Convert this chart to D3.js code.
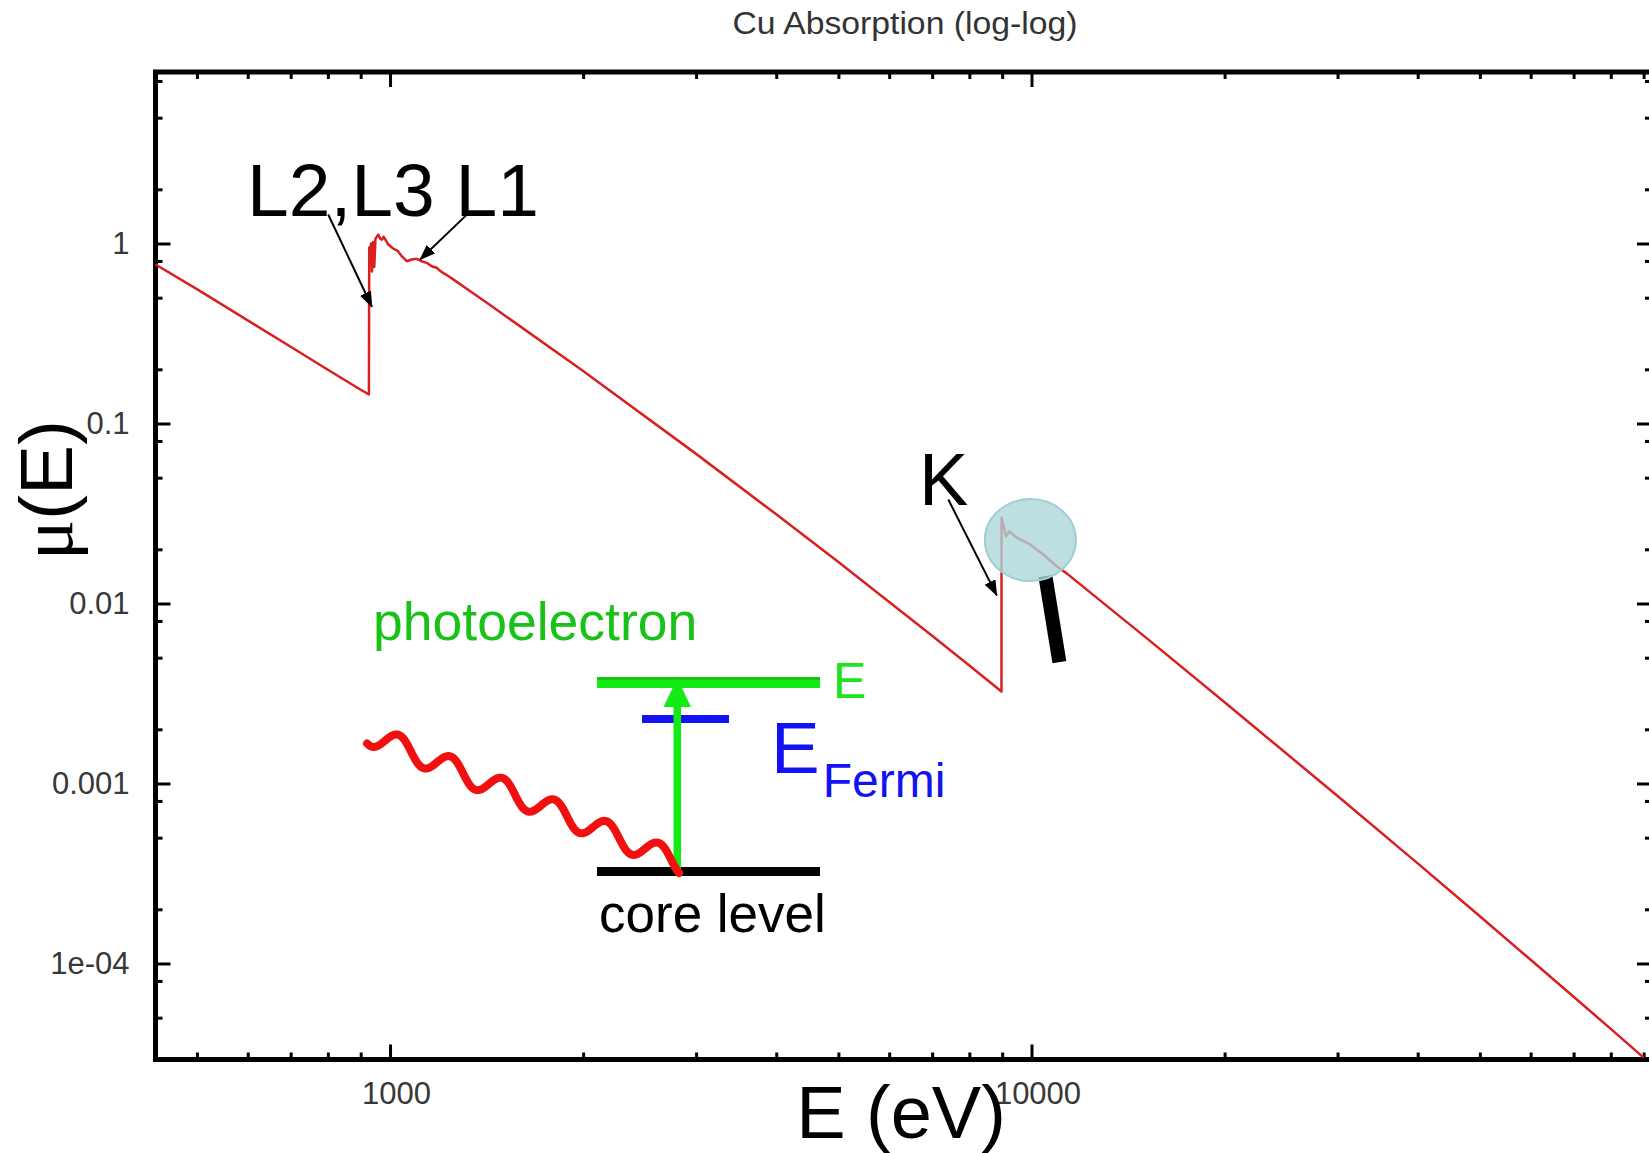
<!DOCTYPE html>
<html>
<head>
<meta charset="utf-8">
<script src="https://cdn.jsdelivr.net/npm/d3@7"></script>
<style>
  html, body { margin: 0; padding: 0; background: #fff; }
  svg { display: block; }
  text { font-family: "Liberation Sans", Arial, Helvetica, sans-serif; }
</style>
</head>
<body>
<svg id="chart" width="1649" height="1153"></svg>
<script>
// Cu photoabsorption coefficient vs. photon energy (log-log)
const energyEV = [
  431, 500, 600, 700, 800, 900, 927,
  928, 931, 934, 937, 941, 945, 949, 955, 959, 966, 971, 977, 982, 993,
  1011, 1029, 1043, 1062, 1081, 1100, 1120, 1141, 1161, 1182, 1204, 1226,
  1271, 1332, 1432, 1538, 2000, 3000, 4000, 5000, 6000, 7000, 8000, 8978,
  8981, 9127, 9235, 9484, 9947, 10433, 10946, 11346, 15300,
  20000, 30000, 40000, 50000, 60000, 70000, 80000, 90000
];
const muValues = [
  0.764, 0.558, 0.374, 0.267, 0.199, 0.154, 0.145,
  0.95, 0.80, 1.00, 0.70, 1.02, 0.74, 1.06, 1.10, 1.12, 1.06, 1.05, 1.09, 1.06, 0.99,
  0.938, 0.906, 0.850, 0.797, 0.815, 0.822, 0.797, 0.781, 0.748, 0.733, 0.693, 0.668,
  0.612, 0.544, 0.455, 0.380, 0.1955, 0.0678, 0.0313, 0.0170, 0.0102, 0.00661, 0.00452, 0.00324,
  0.0300, 0.0236, 0.0252, 0.0232, 0.0213, 0.0187, 0.0161, 0.0147, 0.0062,
  0.00283, 0.000852, 0.000360, 0.000183, 0.0001048, 0.0000653, 0.0000433, 0.0000300
];

const xMajorTicks = [1000, 10000];
const xMinorTicks = [500, 600, 700, 800, 900,
  2000, 3000, 4000, 5000, 6000, 7000, 8000, 9000,
  20000, 30000, 40000, 50000, 60000, 70000, 80000, 90000];
const yMajorTicks = [1, 0.1, 0.01, 0.001, 0.0001];
const yMajorLabels = ["1", "0.1", "0.01", "0.001", "1e-04"];
const yMinorTicks = [8, 5, 2, 0.8, 0.5, 0.2, 0.08, 0.05, 0.02, 0.008, 0.005, 0.002,
  0.0008, 0.0005, 0.0002, 0.00008, 0.00005];

// Edge labels and their pointer arrows (tail -> head, in E / mu units)
const edgeNames = ["L2,L3 L1", "K"];
const edgeArrows = [
  { from: [801, 1.45], to: [937, 0.445] },
  { from: [1324, 1.47], to: [1114, 0.815] },
  { from: [7419, 0.0378], to: [8828, 0.0111] }
];

const svg = d3.select("#chart");
const frame = { left: 155.5, right: 1652, top: 72, bottom: 1059.5 };

const x = d3.scaleLog().domain([430.9, 92750]).range([frame.left, frame.right]);
const y = d3.scaleLog().domain([2.928e-5, 8.97]).range([frame.bottom, frame.top]);

// ---- title
svg.append("text")
  .attr("x", 905).attr("y", 34)
  .attr("text-anchor", "middle")
  .attr("font-size", 31)
  .attr("textLength", 345).attr("lengthAdjust", "spacingAndGlyphs")
  .attr("fill", "#333")
  .text("Cu Absorption (log-log)");

// ---- tick marks on all four sides
function styleAxis(g) {
  g.select(".domain").remove();
  g.selectAll(".tick line").attr("stroke", "#000").attr("stroke-width", 3);
  g.selectAll(".tick text")
    .attr("fill", "#383838")
    .style("font-size", "31px")
    .style("font-family", "'Liberation Sans', Arial, sans-serif");
}

svg.append("g").attr("transform", `translate(0,${frame.bottom})`)
  .call(d3.axisBottom(x).tickValues(xMajorTicks).tickSize(-15).tickPadding(22)
    .tickFormat(d3.format("d")))
  .call(styleAxis)
  .selectAll(".tick text").attr("dx", 6);
svg.append("g").attr("transform", `translate(0,${frame.bottom})`)
  .call(d3.axisBottom(x).tickValues(xMinorTicks).tickSize(-7).tickFormat(""))
  .call(styleAxis);
svg.append("g").attr("transform", `translate(0,${frame.top})`)
  .call(d3.axisTop(x).tickValues(xMajorTicks).tickSize(-15).tickFormat(""))
  .call(styleAxis);
svg.append("g").attr("transform", `translate(0,${frame.top})`)
  .call(d3.axisTop(x).tickValues(xMinorTicks).tickSize(-7).tickFormat(""))
  .call(styleAxis);

svg.append("g").attr("transform", `translate(${frame.left},0)`)
  .call(d3.axisLeft(y).tickValues(yMajorTicks).tickSize(-15).tickPadding(26)
    .tickFormat((d, i) => yMajorLabels[i]))
  .call(styleAxis);
svg.append("g").attr("transform", `translate(${frame.left},0)`)
  .call(d3.axisLeft(y).tickValues(yMinorTicks).tickSize(-7).tickFormat(""))
  .call(styleAxis);
svg.append("g").attr("transform", `translate(${frame.right},0)`)
  .call(d3.axisRight(y).tickValues(yMajorTicks).tickSize(-15).tickFormat(""))
  .call(styleAxis);
svg.append("g").attr("transform", `translate(${frame.right},0)`)
  .call(d3.axisRight(y).tickValues(yMinorTicks).tickSize(-7).tickFormat(""))
  .call(styleAxis);

// plot frame
svg.append("rect")
  .attr("x", frame.left).attr("y", frame.top)
  .attr("width", frame.right - frame.left).attr("height", frame.bottom - frame.top)
  .attr("fill", "none").attr("stroke", "#000").attr("stroke-width", 5);

// ---- absorption curve
const pts = energyEV.map((e, i) => [e, muValues[i]]);
svg.append("path")
  .datum(pts)
  .attr("fill", "none")
  .attr("stroke", "#d92020")
  .attr("stroke-width", 2.5)
  .attr("stroke-linejoin", "round")
  .attr("d", d3.line().x(d => x(d[0])).y(d => y(d[1])));

// ---- edge labels with arrows
svg.append("defs").append("marker")
  .attr("id", "head")
  .attr("viewBox", "0 0 16 12")
  .attr("refX", 15).attr("refY", 6)
  .attr("markerWidth", 16).attr("markerHeight", 12)
  .attr("markerUnits", "userSpaceOnUse")
  .attr("orient", "auto")
  .append("path").attr("d", "M0,0 L16,6 L0,12 Z").attr("fill", "#000");

svg.append("text").attr("x", 247).attr("y", 216)
  .attr("font-size", 75).attr("fill", "#000").text(edgeNames[0]);
svg.append("text").attr("x", 919).attr("y", 505)
  .attr("font-size", 74).attr("fill", "#000").text(edgeNames[1]);

svg.selectAll("line.edge-arrow")
  .data(edgeArrows)
  .join("line")
  .attr("class", "edge-arrow")
  .attr("x1", d => x(d.from[0])).attr("y1", d => y(d.from[1]))
  .attr("x2", d => x(d.to[0])).attr("y2", d => y(d.to[1]))
  .attr("stroke", "#000").attr("stroke-width", 2)
  .attr("marker-end", "url(#head)");

// ---- magnifier over the K edge
const lensCx = x(9960), lensCy = y(0.0225);
svg.append("line")
  .attr("x1", lensCx + 15).attr("y1", lensCy + 36)
  .attr("x2", lensCx + 29).attr("y2", lensCy + 122)
  .attr("stroke", "#000").attr("stroke-width", 14);
svg.append("ellipse")
  .attr("cx", lensCx).attr("cy", lensCy)
  .attr("rx", 45.5).attr("ry", 41)
  .attr("fill", "rgb(172,214,218)").attr("fill-opacity", 0.78)
  .attr("stroke", "rgb(160,206,212)").attr("stroke-width", 2);

// ---- photoabsorption schematic
const diag = svg.append("g");
diag.append("text").attr("x", 373).attr("y", 640)
  .attr("font-size", 53.5).attr("fill", "#18c218").text("photoelectron");

// continuum level E
diag.append("rect").attr("x", 597).attr("y", 677).attr("width", 223).attr("height", 11)
  .attr("fill", "#14ea14");
diag.append("rect").attr("x", 597).attr("y", 677).attr("width", 223).attr("height", 3)
  .attr("fill", "#13c613");
diag.append("text").attr("x", 833).attr("y", 698)
  .attr("font-size", 50).attr("fill", "#1de41d").text("E");

// Fermi level
diag.append("rect").attr("x", 642).attr("y", 715).attr("width", 87).attr("height", 8)
  .attr("fill", "#1212f2");
const fermi = diag.append("text").attr("x", 771).attr("y", 773)
  .attr("fill", "#1212f2").attr("font-size", 73);
fermi.append("tspan").text("E");
fermi.append("tspan").attr("font-size", 48).attr("dy", 24).attr("dx", 3).text("Fermi");

// core level
diag.append("rect").attr("x", 597).attr("y", 867).attr("width", 223).attr("height", 9)
  .attr("fill", "#000");
diag.append("text").attr("x", 599).attr("y", 932)
  .attr("font-size", 53).attr("fill", "#000").text("core level");

// excitation arrow
diag.append("rect").attr("x", 673.5).attr("y", 704).attr("width", 7.5).attr("height", 168)
  .attr("fill", "#14ea14");
diag.append("path").attr("d", "M677.3,678 L691,707 L663.5,707 Z").attr("fill", "#14ea14");

// incoming photon (wavy)
const photon = d3.range(-0.577, 5.425, 0.01).map(t => [
  398 + 52 * t + Math.cos(2 * Math.PI * t),
  746.1 + 21.6 * t - 11.1 * Math.cos(2 * Math.PI * t)
]);
diag.append("path")
  .datum(photon)
  .attr("fill", "none").attr("stroke", "#f01010").attr("stroke-width", 8)
  .attr("stroke-linecap", "round").attr("stroke-linejoin", "round")
  .attr("d", d3.line());

// ---- axis titles
const yTitle = svg.append("text")
  .attr("transform", "translate(72,490) rotate(-90)")
  .attr("text-anchor", "middle")
  .attr("font-size", 75).attr("fill", "#000");
yTitle.append("tspan").style("font-family", "'Liberation Serif', 'DejaVu Serif', serif").text("\u03BC");
yTitle.append("tspan").text("(E)");

svg.append("text")
  .attr("x", 901).attr("y", 1138)
  .attr("text-anchor", "middle")
  .attr("font-size", 74).attr("fill", "#000")
  .text("E (eV)");
</script>
</body>
</html>
